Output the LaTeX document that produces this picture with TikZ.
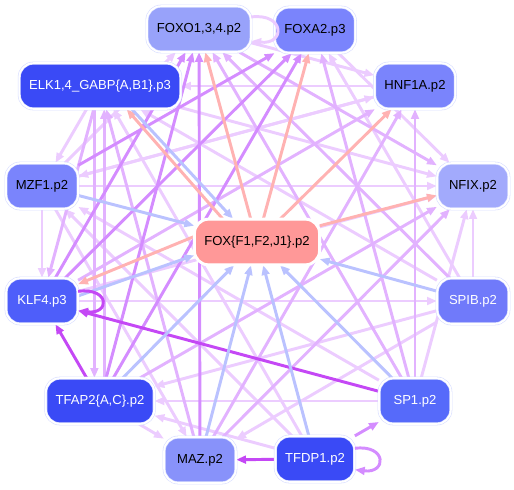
\documentclass[tikz,border=0pt]{standalone}
\usepackage{fontspec}
\setmainfont{Liberation Sans}
\definecolor{edgelav}{RGB}{236,204,255}
\definecolor{edgemauve}{RGB}{226,178,255}
\definecolor{edgepurp}{RGB}{212,140,255}
\definecolor{edgehot}{RGB}{196,72,245}
\definecolor{edgered}{RGB}{255,178,178}
\definecolor{edgeblue}{RGB}{186,194,255}
\definecolor{nodering}{RGB}{214,220,255}
\definecolor{paleblue}{RGB}{152,162,250}
\definecolor{midblue}{RGB}{122,132,252}
\definecolor{lightblue}{RGB}{162,170,252}
\definecolor{deepblue}{RGB}{58,74,246}
\definecolor{klfblue}{RGB}{78,94,250}
\definecolor{spibblue}{RGB}{112,122,250}
\definecolor{spblue}{RGB}{86,106,250}
\definecolor{mazblue}{RGB}{136,146,250}
\definecolor{foxpink}{RGB}{255,152,152}
\usetikzlibrary{positioning,arrows.meta,backgrounds}

\begin{document}
\begin{tikzpicture}[x=0.025cm,y=-0.025cm,
    tf/.style={rounded corners=10pt,minimum width=51pt,minimum height=32.5pt,inner xsep=7pt,
        font=\fontsize{9.3}{11}\selectfont,draw=nodering,double=white,double distance=1.3pt,line width=0.4pt},
    dark/.style={tf,text=white},
    link/.style={line width=2.1pt,-{Triangle[length=7pt,width=5.5pt]}},
    lav/.style={link,color=edgelav},
    mauve/.style={link,color=edgemauve},
    purp/.style={link,color=edgepurp},
    hot/.style={link,color=edgehot},
    red/.style={link,color=edgered},
    blue/.style={link,color=edgeblue}]
    \useasboundingbox (0,0) rectangle (514,489);

    % ring of targets, then the hub
    \node[tf,fill=paleblue] (foxo) at (199,29) {FOXO1,3,4.p2};
    \node[tf,fill=midblue] (foxa) at (315,30) {FOXA2.p3};
    \node[dark,fill=deepblue] (elk) at (100,86) {ELK1,4\_GABP\{A,B1\}.p3};
    \node[tf,fill=midblue] (hnf) at (415,86) {HNF1A.p2};
    \node[tf,fill=midblue] (mzf) at (42,186) {MZF1.p2};
    \node[tf,fill=lightblue] (nfix) at (473,186) {NFIX.p2};
    \node[tf,fill=foxpink,draw=white] (fox) at (257,242) {FOX\{F1,F2,J1\}.p2};
    \node[dark,fill=klfblue] (klf) at (42,301) {KLF4.p3};
    \node[dark,fill=spibblue] (spib) at (473,301) {SPIB.p2};
    \node[dark,fill=deepblue] (tfap) at (100,401) {TFAP2\{A,C\}.p2};
    \node[dark,fill=spblue] (sp1) at (415,401) {SP1.p2};
    \node[tf,fill=mazblue] (maz) at (200,460) {MAZ.p2};
    \node[dark,fill=deepblue] (tfdp) at (315,459) {TFDP1.p2};

    \begin{pgfonlayer}{background}
    % light links
    \foreach \a/\b in {foxo/hnf,foxa/nfix,elk/mzf,elk/nfix,mzf/klf,mzf/nfix,mzf/hnf,mzf/foxo,
        klf/spib,klf/nfix,spib/nfix,spib/elk,spib/maz,spib/foxa,spib/tfap,sp1/tfap,sp1/mzf,
        sp1/nfix,tfap/maz,tfdp/tfap,tfdp/elk,tfdp/mzf,hnf/elk,hnf/mzf,mzf/maz}
        \draw[lav] (\a) -- (\b);
    \foreach \a/\b in {sp1/hnf,sp1/foxa,sp1/foxo,maz/hnf,maz/elk,spib/foxo,elk/klf,
        klf/hnf,foxo/nfix,tfap/nfix,maz/nfix}
        \draw[mauve] (\a) -- (\b);
    \draw[mauve] ([xshift=-4pt]elk.south) -- ([xshift=-4pt]tfap.north);
    \draw[mauve] ([xshift=3pt]tfap.north) -- ([xshift=3pt]elk.south);
    \foreach \a/\b in {tfdp/sp1,tfap/foxo,klf/foxo,klf/foxa,mzf/foxa,maz/foxo,tfap/foxa}
        \draw[purp] (\a) -- (\b);
    \foreach \a/\b in {tfdp/maz,tfap/klf,sp1/klf}
        \draw[hot] (\a) -- (\b);

    % hub links
    \foreach \a in {mzf,spib,sp1,tfdp,maz,tfap}
        \draw[blue] (\a) -- (fox);
    \foreach \b in {foxo,foxa,hnf,nfix}
        \draw[red] (fox) -- (\b);
    \draw[red] (fox.175) -- (klf.25);
    \draw[blue] (klf.8) -- (fox.192);
    \draw[red] (fox.146) -- (elk.-41);
    \draw[blue] (elk.-36) -- (fox.136);
    \end{pgfonlayer}

    % self loops
    \draw[lav] (foxo.13) .. controls +(34,-4) and +(34,4) .. (foxo.-13);
    \draw[hot] (klf.15) .. controls +(32,-4) and +(32,4) .. (klf.-15);
    \draw[purp] (tfdp.15) .. controls +(32,-4) and +(32,4) .. (tfdp.-15);
\end{tikzpicture}
\end{document}
